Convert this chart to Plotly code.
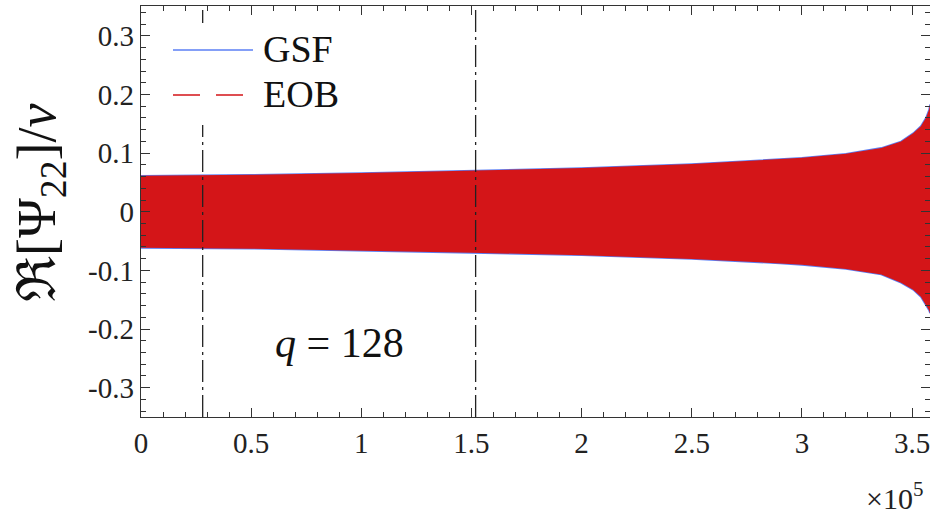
import plotly.graph_objects as go

# ---- data ----
# envelope of the (densely oscillating) waveform Re[Psi22]/nu, time in M
env_t = [0, 50000, 100000, 150000, 200000, 250000, 290000, 300000, 320000,
         327000, 336000, 345000, 350500, 354000, 356400, 357700, 358150]
env_upper = [0.0615, 0.0630, 0.0660, 0.0700, 0.0745, 0.0815, 0.0890, 0.0920, 0.0990,
             0.1030, 0.1090, 0.1200, 0.1340, 0.1460, 0.1610, 0.1740, 0.1830]
env_lower = [-0.0615, -0.0630, -0.0660, -0.0700, -0.0740, -0.0805, -0.0880, -0.0905, -0.0975,
             -0.1010, -0.1070, -0.1210, -0.1330, -0.1450, -0.1600, -0.1680, -0.1730]
marker_times = [28000, 151900]

x_tickvals = [0, 50000, 100000, 150000, 200000, 250000, 300000, 350000]
x_ticktext = ["0", "0.5", "1", "1.5", "2", "2.5", "3", "3.5"]
y_tickvals = [-0.3, -0.2, -0.1, 0, 0.1, 0.2, 0.3]
y_ticktext = ["-0.3", "-0.2", "-0.1", "0", "0.1", "0.2", "0.3"]
series_names = ["GSF", "EOB"]
annot_text = "<i>q</i> = 128"

BLUE = "#5b7ff5"
RED = "#d41518"
SERIF = "Liberation Serif"

band_x = env_t + env_t[::-1]
band_y = env_upper + env_lower[::-1]

fig = go.Figure()
# GSF band (blue, drawn underneath; its outline peeks out)
fig.add_trace(go.Scatter(x=band_x, y=band_y, fill="toself", fillcolor=BLUE,
                         line=dict(color=BLUE, width=1.6), mode="lines",
                         name=series_names[0], showlegend=False, hoverinfo="skip"))
# EOB band (red, on top)
fig.add_trace(go.Scatter(x=band_x, y=band_y, fill="toself", fillcolor=RED,
                         line=dict(color=RED, width=0), mode="lines",
                         name=series_names[1], showlegend=False, hoverinfo="skip"))
# dash-dot time markers
for t in marker_times:
    fig.add_trace(go.Scatter(x=[t, t], y=[-0.35, 0.351], mode="lines",
                             line=dict(color="#222222", width=1.3, dash="22px,5px,3px,5px"),
                             showlegend=False, hoverinfo="skip"))

# manual legend (white box covering the marker line, long line samples)
W, H = 789.0, 411.0
def px(xp):
    return (xp - 141) / W
def py(yp):
    return (417 - yp) / H

shapes = [
    dict(type="rect", xref="paper", yref="paper", x0=px(160), x1=px(345), y0=py(125), y1=py(23),
         fillcolor="white", line=dict(width=0), layer="above"),
    dict(type="line", xref="paper", yref="paper", x0=px(173), x1=px(253), y0=py(50), y1=py(50),
         line=dict(color=BLUE, width=1.4), layer="above"),
    dict(type="line", xref="paper", yref="paper", x0=px(173), x1=px(253), y0=py(95), y1=py(95),
         line=dict(color=RED, width=1.4, dash="27px,16px"), layer="above"),
]
annotations = [
    dict(text=series_names[0], xref="paper", yref="paper", x=px(261), y=py(49), xanchor="left",
         yanchor="middle", showarrow=False, font=dict(family=SERIF, size=38, color="#111")),
    dict(text=series_names[1], xref="paper", yref="paper", x=px(261), y=py(94), xanchor="left",
         yanchor="middle", showarrow=False, font=dict(family=SERIF, size=38, color="#111")),
    dict(text=annot_text, xref="paper", yref="paper", x=px(339), y=py(343), xanchor="center",
         yanchor="middle", showarrow=False, font=dict(family=SERIF, size=42, color="#111")),
    dict(text="×10<sup>5</sup>", xref="paper", yref="paper", x=px(924), y=py(496), xanchor="right",
         yanchor="middle", showarrow=False, borderpad=0, font=dict(family=SERIF, size=30, color="#222")),
    dict(text="ℜ[Ψ<sub>22</sub>]/<i>ν</i>", xref="paper", yref="paper", x=px(40), y=py(203),
         xanchor="center", yanchor="middle", textangle=-90, showarrow=False,
         font=dict(family=SERIF, size=54, color="#111")),
]

axis_common = dict(showline=True, linecolor="#333333", linewidth=1.4, mirror="allticks",
                   ticks="inside", ticklen=9, tickwidth=1.4, tickcolor="#333333",
                   showgrid=False, zeroline=False, automargin=False,
                   ticklabeloverflow="allow",
                   tickfont=dict(family=SERIF, size=29, color="#222222"))

fig.update_layout(
    width=930, height=514,
    margin=dict(l=141, r=0, t=6, b=97, autoexpand=False),
    paper_bgcolor="white", plot_bgcolor="white",
    showlegend=False,
    font=dict(family=SERIF),
    shapes=shapes, annotations=annotations,
    xaxis=dict(range=[0, 358150], tickvals=x_tickvals, ticktext=x_ticktext,
               minor=dict(ticks="inside", ticklen=5, tickwidth=1.2, tickcolor="#333333", dtick=10000, tick0=0),
               **axis_common),
    yaxis=dict(range=[-0.35, 0.351], tickvals=y_tickvals, ticktext=y_ticktext,
               minor=dict(ticks="inside", ticklen=5, tickwidth=1.2, tickcolor="#333333", dtick=0.02, tick0=0),
               **axis_common),
)

fig.write_html("out.html", config={"displayModeBar": False},
               post_script="document.body.style.margin='0';document.body.style.padding='0';"
                           "document.body.style.overflow='hidden';")
